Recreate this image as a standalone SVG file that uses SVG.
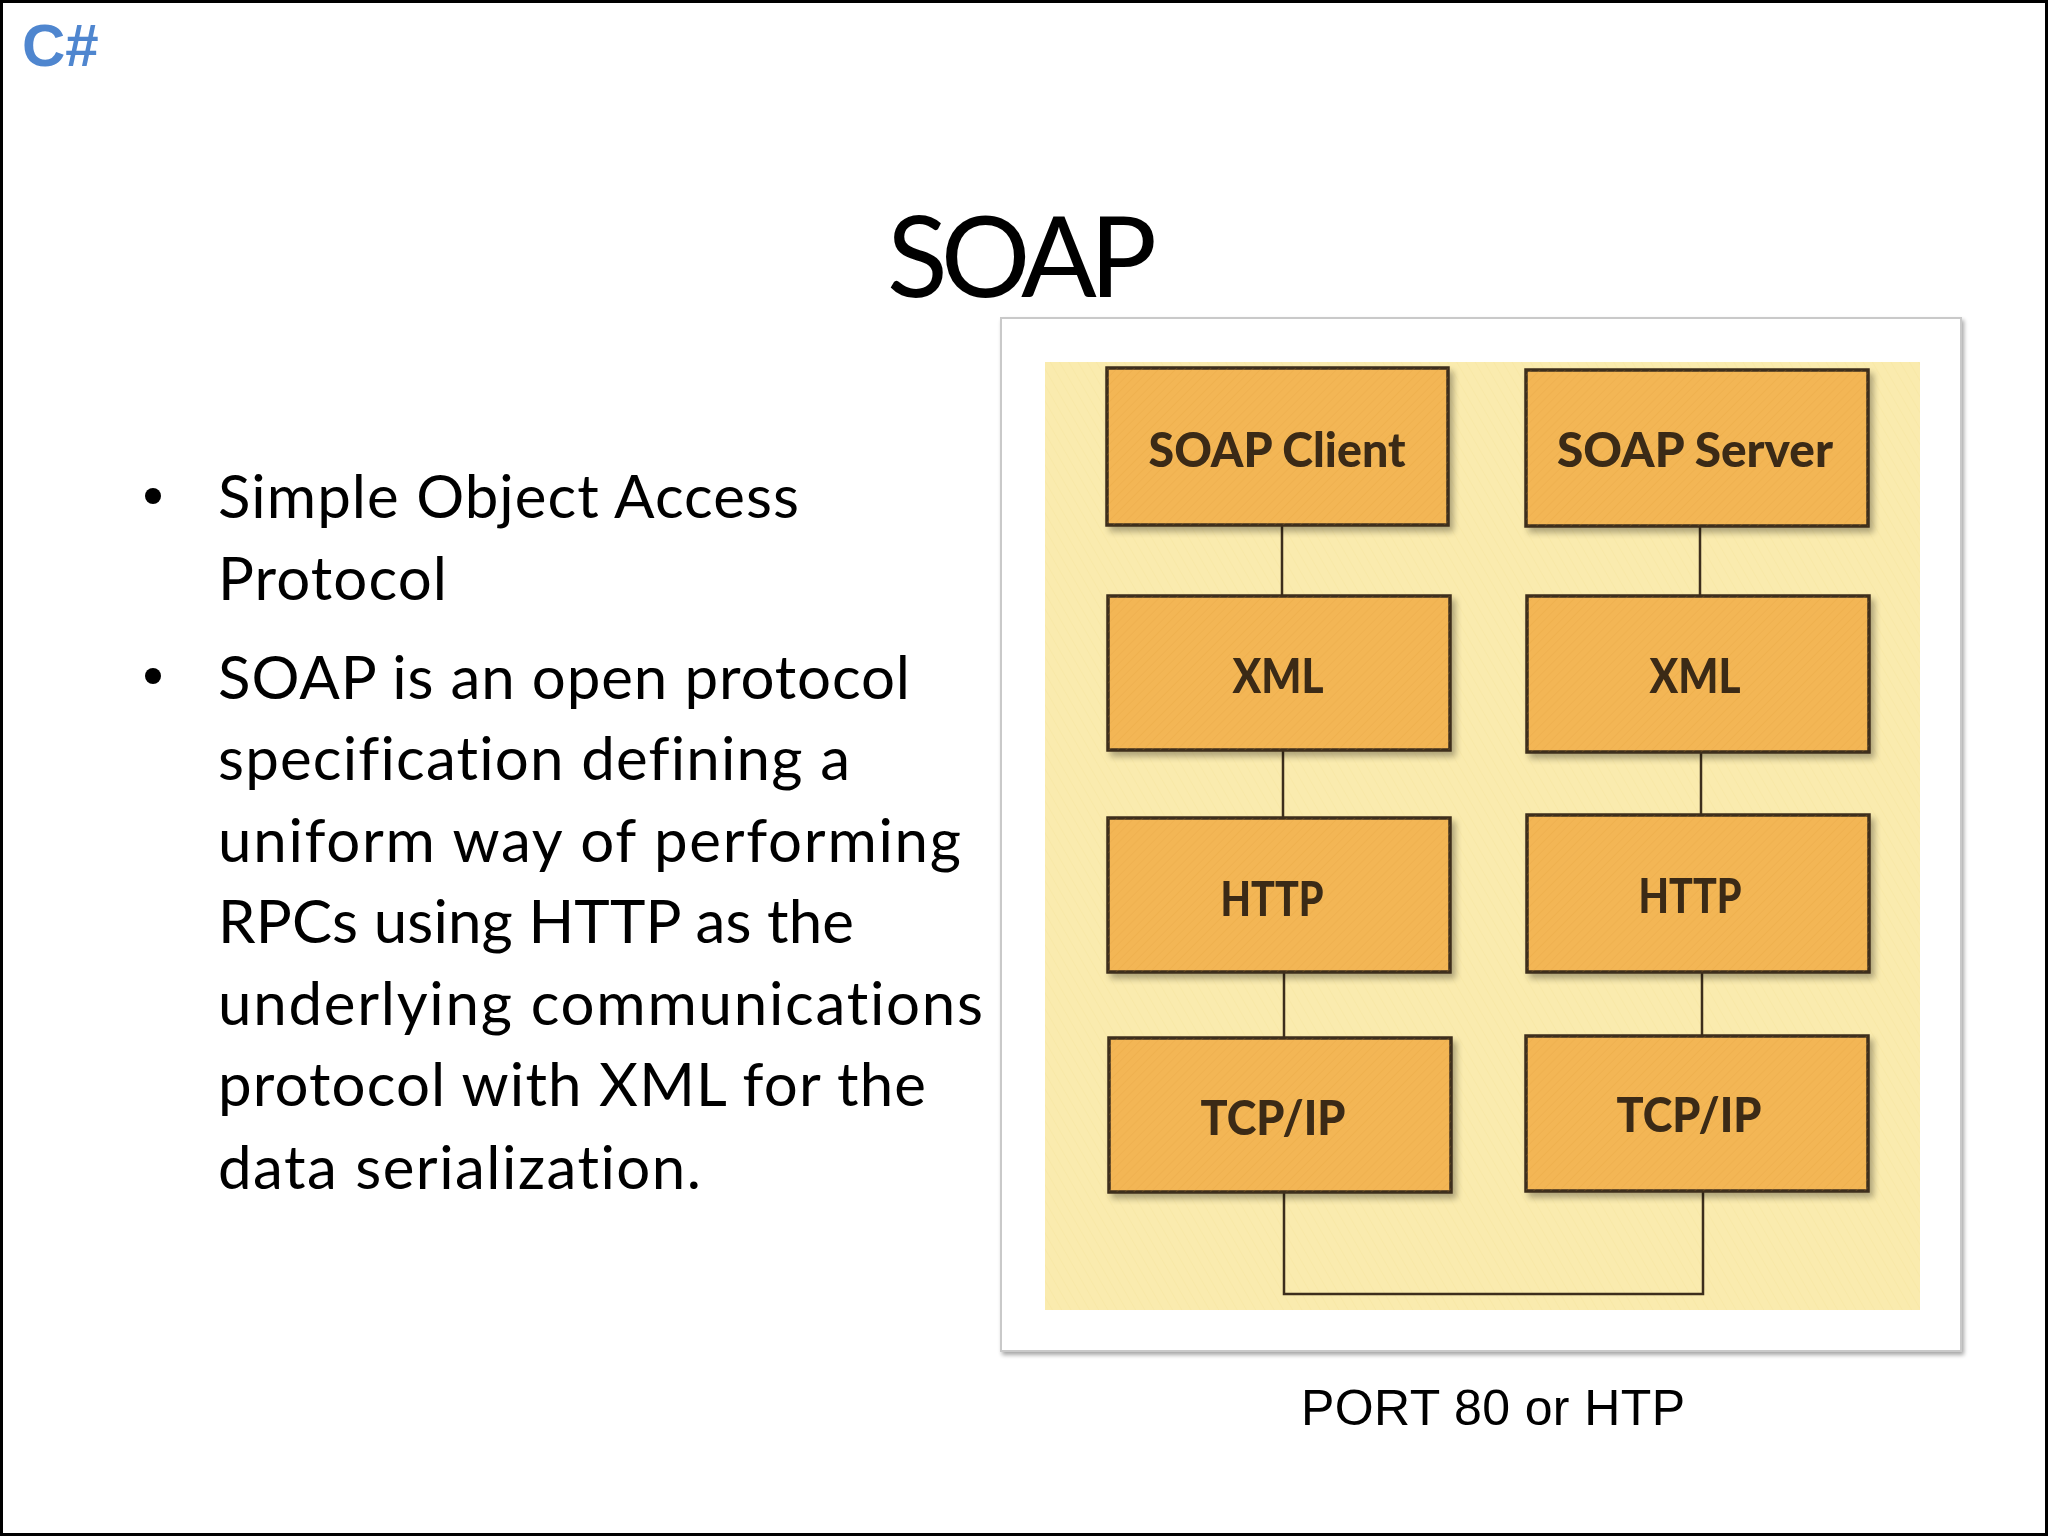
<svg xmlns="http://www.w3.org/2000/svg" width="2048" height="1536" viewBox="0 0 2048 1536">
<defs>
<style>
.body{font-family:Lato,"Open Sans",sans-serif;font-size:60px;fill:#000;font-variant-ligatures:none}
.lbl{font-family:Lato,"Open Sans",sans-serif;font-weight:900;font-size:48px;fill:#3a2a18;text-anchor:middle;font-variant-ligatures:none}
.box{fill:#f3b654;stroke:#3d2e1c;stroke-width:3.5}
.conn{fill:none;stroke:#3d2e1c;stroke-width:2.5}
</style>
<pattern id="hatch" width="6" height="6" patternUnits="userSpaceOnUse" patternTransform="rotate(45)">
<line x1="0" y1="0" x2="0" y2="6" stroke="#e09a3a" stroke-width="1" opacity="0.35"/>
</pattern>
<pattern id="bgtex" width="8" height="8" patternUnits="userSpaceOnUse" patternTransform="rotate(-30)">
<line x1="0" y1="0" x2="0" y2="8" stroke="#efd88a" stroke-width="1" opacity="0.4"/>
</pattern>
<filter id="sh" x="-10%" y="-10%" width="130%" height="130%">
<feGaussianBlur in="SourceAlpha" stdDeviation="3"/>
<feOffset dx="4" dy="5"/>
<feComponentTransfer><feFuncA type="linear" slope="0.3"/></feComponentTransfer>
<feMerge><feMergeNode/><feMergeNode in="SourceGraphic"/></feMerge>
</filter>
<filter id="fsh" x="-5%" y="-5%" width="110%" height="110%">
<feGaussianBlur in="SourceAlpha" stdDeviation="2"/>
<feOffset dx="2" dy="3"/>
<feComponentTransfer><feFuncA type="linear" slope="0.35"/></feComponentTransfer>
<feMerge><feMergeNode/><feMergeNode in="SourceGraphic"/></feMerge>
</filter>
</defs>
<rect x="0" y="0" width="2048" height="1536" fill="#fff"/>
<rect x="1.5" y="1.5" width="2045" height="1533" fill="none" stroke="#000" stroke-width="3"/>

<text x="22" y="66" font-family="'Liberation Sans',Arial,sans-serif" font-weight="700" font-size="60" fill="#4f86cf">C#</text>

<text x="1022" y="297" font-family="Lato,'Open Sans',sans-serif" font-size="112" text-anchor="middle" textLength="270">SOAP</text>

<g id="bullets">
<circle cx="153" cy="496" r="8" fill="#000"/>
<circle cx="153" cy="676" r="8" fill="#000"/>
<text class="body" x="218" y="518" textLength="581">Simple Object Access</text>
<text class="body" x="218" y="600" textLength="229">Protocol</text>
<text class="body" x="218" y="699" textLength="692">SOAP is an open protocol</text>
<text class="body" x="218" y="780" textLength="632">specification defining a</text>
<text class="body" x="218" y="862" textLength="743">uniform way of performing</text>
<text class="body" x="218" y="943" textLength="636">RPCs using HTTP as the</text>
<text class="body" x="218" y="1025" textLength="765">underlying communications</text>
<text class="body" x="218" y="1106" textLength="708">protocol with XML for the</text>
<text class="body" x="218" y="1189" textLength="483">data serialization.</text>
</g>

<rect x="1001" y="318" width="960" height="1033" fill="#fff" stroke="#c9c9c9" stroke-width="2" filter="url(#fsh)"/>
<rect x="1045" y="362" width="875" height="948" fill="#faebae"/>
<rect x="1045" y="362" width="875" height="948" fill="url(#bgtex)"/>

<g id="connectors">
<line class="conn" x1="1282" y1="525" x2="1282" y2="596"/>
<line class="conn" x1="1283" y1="750" x2="1283" y2="818"/>
<line class="conn" x1="1284" y1="972" x2="1284" y2="1038"/>
<line class="conn" x1="1700" y1="526" x2="1700" y2="596"/>
<line class="conn" x1="1701" y1="752" x2="1701" y2="815"/>
<line class="conn" x1="1702" y1="972" x2="1702" y2="1036"/>
<polyline class="conn" points="1284,1192 1284,1294 1703,1294 1703,1191"/>
</g>

<g id="soap-client" filter="url(#sh)">
<rect class="box" x="1107" y="368" width="341" height="157"/>
<rect x="1107" y="368" width="341" height="157" fill="url(#hatch)"/>
<text class="lbl" x="1277" y="467" textLength="257" lengthAdjust="spacingAndGlyphs">SOAP Client</text>
</g>
<g id="xml-client" filter="url(#sh)">
<rect class="box" x="1108" y="596" width="342" height="154"/>
<rect x="1108" y="596" width="342" height="154" fill="url(#hatch)"/>
<text class="lbl" x="1278" y="693" textLength="91" lengthAdjust="spacingAndGlyphs">XML</text>
</g>
<g id="http-client" filter="url(#sh)">
<rect class="box" x="1108" y="818" width="342" height="154"/>
<rect x="1108" y="818" width="342" height="154" fill="url(#hatch)"/>
<text class="lbl" x="1272" y="916" textLength="103" lengthAdjust="spacingAndGlyphs">HTTP</text>
</g>
<g id="tcp-client" filter="url(#sh)">
<rect class="box" x="1109" y="1038" width="342" height="154"/>
<rect x="1109" y="1038" width="342" height="154" fill="url(#hatch)"/>
<text class="lbl" x="1273" y="1135" textLength="145" lengthAdjust="spacingAndGlyphs">TCP/IP</text>
</g>
<g id="soap-server" filter="url(#sh)">
<rect class="box" x="1526" y="370" width="342" height="156"/>
<rect x="1526" y="370" width="342" height="156" fill="url(#hatch)"/>
<text class="lbl" x="1695" y="467" textLength="276" lengthAdjust="spacingAndGlyphs">SOAP Server</text>
</g>
<g id="xml-server" filter="url(#sh)">
<rect class="box" x="1527" y="596" width="342" height="156"/>
<rect x="1527" y="596" width="342" height="156" fill="url(#hatch)"/>
<text class="lbl" x="1695" y="693" textLength="91" lengthAdjust="spacingAndGlyphs">XML</text>
</g>
<g id="http-server" filter="url(#sh)">
<rect class="box" x="1527" y="815" width="342" height="157"/>
<rect x="1527" y="815" width="342" height="157" fill="url(#hatch)"/>
<text class="lbl" x="1690" y="913" textLength="103" lengthAdjust="spacingAndGlyphs">HTTP</text>
</g>
<g id="tcp-server" filter="url(#sh)">
<rect class="box" x="1526" y="1036" width="342" height="155"/>
<rect x="1526" y="1036" width="342" height="155" fill="url(#hatch)"/>
<text class="lbl" x="1689" y="1132" textLength="145" lengthAdjust="spacingAndGlyphs">TCP/IP</text>
</g>

<text x="1493" y="1425" font-family="'Liberation Sans',Arial,sans-serif" font-size="50" text-anchor="middle" textLength="384">PORT 80 or HTP</text>
</svg>
